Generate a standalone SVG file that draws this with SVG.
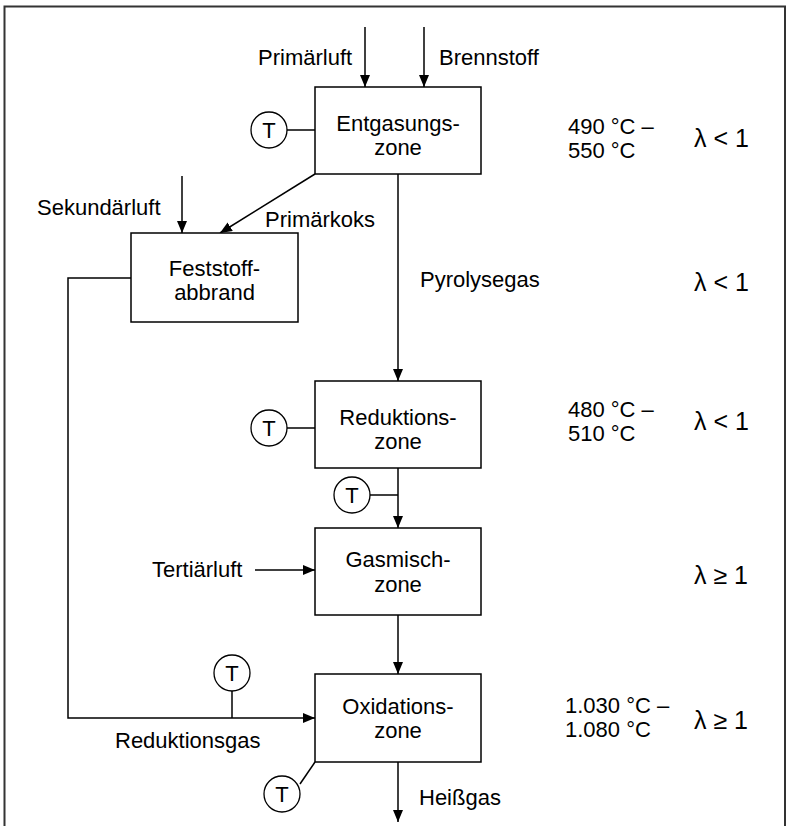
<svg xmlns="http://www.w3.org/2000/svg" width="787" height="826" viewBox="0 0 787 826">
<defs>
<marker id="ah" viewBox="0 0 12 10" refX="12" refY="5" markerWidth="12" markerHeight="10" markerUnits="userSpaceOnUse" orient="auto">
<path d="M0,0 L12,5 L0,10 Z" fill="#000"/>
</marker>
</defs>
<style>
.box{fill:#fff;stroke:#000;stroke-width:1.5}
.ln{fill:none;stroke:#000;stroke-width:1.5}
.ar{fill:none;stroke:#000;stroke-width:1.5;marker-end:url(#ah)}
.t{font-family:"Liberation Sans",Arial,sans-serif;font-size:22px;fill:#000}
.c{text-anchor:middle}
.l{font-family:"Liberation Sans",Arial,sans-serif;font-size:25px;fill:#000}
.tc{fill:#fff;stroke:#000;stroke-width:1.3}
.frame{fill:none;stroke:#333;stroke-width:2}
</style>
<rect width="787" height="826" fill="#fff"/>
<path class="frame" d="M4.5,826 V6.5 H785 V826"/>

<g id="connectors">
<line class="ar" x1="365" y1="27" x2="365" y2="87"/>
<line class="ar" x1="424" y1="27" x2="424" y2="87"/>
<line class="ar" x1="182" y1="176" x2="182" y2="233"/>
<line class="ar" x1="315" y1="174" x2="220" y2="233"/>
<line class="ar" x1="398" y1="174" x2="398" y2="381"/>
<line class="ar" x1="398" y1="468" x2="398" y2="528"/>
<line class="ar" x1="255" y1="570" x2="315" y2="570"/>
<line class="ar" x1="398" y1="615" x2="398" y2="674"/>
<polyline class="ar" points="131,278 68,278 68,718 315,718"/>
<line class="ar" x1="398" y1="762" x2="398" y2="822"/>
<line class="ln" x1="287" y1="130" x2="315" y2="130"/>
<line class="ln" x1="287" y1="428" x2="315" y2="428"/>
<line class="ln" x1="370" y1="495" x2="398" y2="495"/>
<line class="ln" x1="232" y1="691" x2="232" y2="718"/>
<line class="ln" x1="300" y1="784" x2="315" y2="762"/>
</g>

<g id="entgasung">
<rect class="box" x="315" y="87" width="166" height="87"/>
<text class="t c" x="398" y="131">Entgasungs-</text>
<text class="t c" x="398" y="155">zone</text>
</g>
<g id="feststoff">
<rect class="box" x="131" y="233" width="167" height="89"/>
<text class="t c" x="214.5" y="276">Feststoff-</text>
<text class="t c" x="214.5" y="300">abbrand</text>
</g>
<g id="reduktion">
<rect class="box" x="315" y="381" width="166" height="87"/>
<text class="t c" x="398" y="425">Reduktions-</text>
<text class="t c" x="398" y="449">zone</text>
</g>
<g id="gasmisch">
<rect class="box" x="315" y="528" width="166" height="87"/>
<text class="t c" x="398" y="567">Gasmisch-</text>
<text class="t c" x="398" y="592">zone</text>
</g>
<g id="oxidation">
<rect class="box" x="315" y="674" width="166" height="88"/>
<text class="t c" x="398" y="714">Oxidations-</text>
<text class="t c" x="398" y="738">zone</text>
</g>

<g id="t1"><circle class="tc" cx="269" cy="130" r="18"/><text class="t c" x="269" y="138">T</text></g>
<g id="t2"><circle class="tc" cx="269" cy="428" r="18"/><text class="t c" x="269" y="436">T</text></g>
<g id="t3"><circle class="tc" cx="352" cy="495" r="18"/><text class="t c" x="352" y="503">T</text></g>
<g id="t4"><circle class="tc" cx="232" cy="673" r="18"/><text class="t c" x="232" y="681">T</text></g>
<g id="t5"><circle class="tc" cx="282" cy="794" r="18"/><text class="t c" x="282" y="802">T</text></g>

<g id="labels">
<text class="t" x="258" y="65">Primärluft</text>
<text class="t" x="439" y="65">Brennstoff</text>
<text class="t" x="37" y="215">Sekundärluft</text>
<text class="t" x="265" y="227">Primärkoks</text>
<text class="t" x="420" y="287">Pyrolysegas</text>
<text class="t" x="152" y="577">Tertiärluft</text>
<text class="t" x="115" y="748">Reduktionsgas</text>
<text class="t" x="419" y="805">Heißgas</text>
<text class="t" x="568" y="134">490 °C –</text>
<text class="t" x="568" y="158">550 °C</text>
<text class="t" x="568" y="417">480 °C –</text>
<text class="t" x="568" y="441">510 °C</text>
<text class="t" x="565" y="713">1.030 °C –</text>
<text class="t" x="565" y="737">1.080 °C</text>
<text class="l" x="694" y="147">λ &lt; 1</text>
<text class="l" x="694" y="291">λ &lt; 1</text>
<text class="l" x="694" y="430">λ &lt; 1</text>
<text class="l" x="694" y="584">λ ≥ 1</text>
<text class="l" x="694" y="729">λ ≥ 1</text>
</g>
</svg>
